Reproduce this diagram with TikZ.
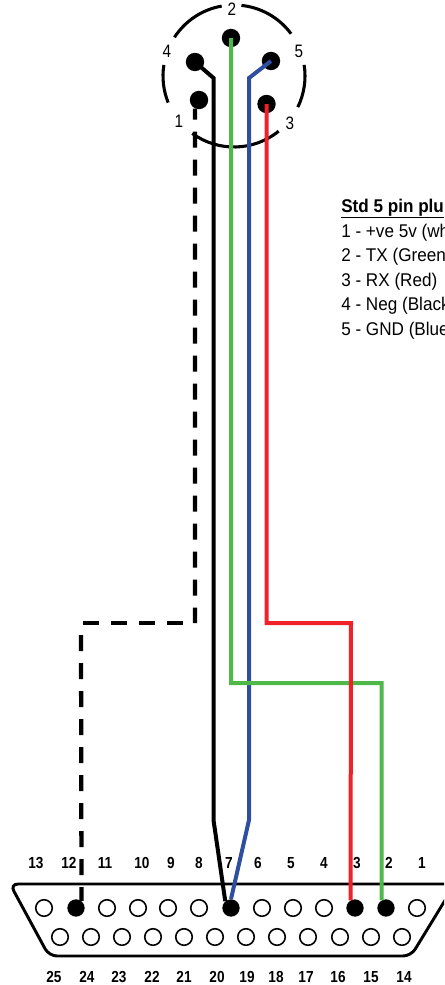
\documentclass[tikz,border=0pt]{standalone}
\usepackage{fontspec}
\setmainfont{Liberation Sans}
\newfontfamily\narrowfont[FakeStretch=0.85]{Liberation Sans}
\newfontfamily\keyfont[FakeStretch=0.93]{Liberation Sans}
\usepackage{tikz}
\usetikzlibrary{arrows,arrows.meta,calc,positioning}

\definecolor{wiregreen}{RGB}{78,184,72}
\definecolor{wireblue}{RGB}{46,79,160}
\definecolor{wirered}{RGB}{238,34,40}

\begin{document}
\begin{tikzpicture}[x=0.75pt,y=-0.75pt]

  \tikzstyle{RIM}=[line width=2.3pt];
  \tikzstyle{SHELL}=[line width=2.2pt,rounded corners=6pt];
  \tikzstyle{DINPIN}=[circle,fill=black,inner sep=0pt,minimum size=13.8pt];
  \tikzstyle{HOLE}=[circle,draw,line width=1.2pt,fill=white,inner sep=0pt,minimum size=12.4pt];
  \tikzstyle{PIN}=[circle,fill=black,inner sep=0pt,minimum size=13pt];
  \tikzstyle{WIRE}=[line width=3pt];
  \tikzstyle{DASHWIRE}=[line width=3.2pt,dash pattern=on 12pt off 9pt];
  \tikzstyle{NUM}=[inner sep=0pt,font=\narrowfont\fontsize{12}{14}\selectfont\bfseries];
  \tikzstyle{DINNUM}=[inner sep=0pt,font=\narrowfont\fontsize{13.5}{15}\selectfont];
  \tikzstyle{KEY}=[inner sep=0pt,anchor=base west,font=\keyfont\fontsize{13.8}{16}\selectfont];

  \path[use as bounding box,clip] (0,0) rectangle (444,985);

  %% round plug

  \coordinate (din) at (234,76);
  \draw[RIM] (din) ++(-84:71) arc[start angle=-84,end angle=-36.5,radius=71];
  \draw[RIM] (din) ++(-9:71) arc[start angle=-9,end angle=26,radius=71];
  \draw[RIM] (din) ++(51:71) arc[start angle=51,end angle=126,radius=71];
  \draw[RIM] (din) ++(158:71) arc[start angle=158,end angle=189,radius=71];
  \draw[RIM] (din) ++(213:71) arc[start angle=213,end angle=260,radius=71];

  \node [DINPIN] (din1) at (199,100) {};
  \node [DINPIN] (din2) at (231,38) {};
  \node [DINPIN] (din3) at (266.5,104) {};
  \node [DINPIN] (din4) at (195,62) {};
  \node [DINPIN] (din5) at (271,61) {};

  \node [DINNUM] (dn1) at (179,121) {1};
  \node [DINNUM] (dn2) at (232,9) {2};
  \node [DINNUM] (dn3) at (290,123) {3};
  \node [DINNUM] (dn4) at (167,51) {4};
  \node [DINNUM] (dn5) at (299,51) {5};

  %% key

  \node [KEY] (keyhead) at (341,212) {\bfseries\underline{Std 5 pin plu}};
  \node [KEY] (key1) at (341,237) {1 - +ve 5v (wh};
  \node [KEY] (key2) at (341,261.5) {2 - TX (Green};
  \node [KEY] (key3) at (341,286) {3 - RX (Red)};
  \node [KEY] (key4) at (341,310.5) {4 - Neg (Black};
  \node [KEY] (key5) at (341,335) {5 - GND (Blue};

  %% D plug

  \draw[SHELL] (10,884) -- (49,956) -- (411,956) -- (455,884) -- cycle;

  \node [HOLE] (s13) at (44,908) {};
  \node [PIN] (s12) at (76,908) {};
  \node [HOLE] (s11) at (107,908) {};
  \node [HOLE] (s10) at (138,908) {};
  \node [HOLE] (s9) at (168,908) {};
  \node [HOLE] (s8) at (199,908) {};
  \node [PIN] (s7) at (231,908) {};
  \node [HOLE] (s6) at (262,908) {};
  \node [HOLE] (s5) at (293,908) {};
  \node [HOLE] (s4) at (324,908) {};
  \node [PIN] (s3) at (355,908) {};
  \node [PIN] (s2) at (386,908) {};
  \node [HOLE] (s1) at (417,908) {};

  \node [HOLE] (s25) at (60,937) {};
  \node [HOLE] (s24) at (91,937) {};
  \node [HOLE] (s23) at (122,937) {};
  \node [HOLE] (s22) at (153,937) {};
  \node [HOLE] (s21) at (184,937) {};
  \node [HOLE] (s20) at (215,937) {};
  \node [HOLE] (s19) at (246,937) {};
  \node [HOLE] (s18) at (277,937) {};
  \node [HOLE] (s17) at (308,937) {};
  \node [HOLE] (s16) at (340,937) {};
  \node [HOLE] (s15) at (371,937) {};
  \node [HOLE] (s14) at (402,937) {};

  \node [NUM] (n13) at (36,863) {13};
  \node [NUM] (n12) at (69,863) {12};
  \node [NUM] (n11) at (105,863) {11};
  \node [NUM] (n10) at (142,863) {10};
  \node [NUM] (n9) at (171,863) {9};
  \node [NUM] (n8) at (199,863) {8};
  \node [NUM] (n7) at (229,863) {7};
  \node [NUM] (n6) at (258,863) {6};
  \node [NUM] (n5) at (291,863) {5};
  \node [NUM] (n4) at (324,863) {4};
  \node [NUM] (n3) at (357,863) {3};
  \node [NUM] (n2) at (389,863) {2};
  \node [NUM] (n1) at (422,863) {1};

  \node [NUM] (n25) at (54,977) {25};
  \node [NUM] (n24) at (87,977) {24};
  \node [NUM] (n23) at (119,977) {23};
  \node [NUM] (n22) at (152,977) {22};
  \node [NUM] (n21) at (184,977) {21};
  \node [NUM] (n20) at (217,977) {20};
  \node [NUM] (n19) at (247,977) {19};
  \node [NUM] (n18) at (276,977) {18};
  \node [NUM] (n17) at (306,977) {17};
  \node [NUM] (n16) at (338,977) {16};
  \node [NUM] (n15) at (371,977) {15};
  \node [NUM] (n14) at (404,977) {14};

  %% wires

  \coordinate (k1) at (213.5,78);
  \coordinate (k2) at (213.5,820);
  \coordinate (b1) at (249,78);
  \coordinate (b2) at (249,820);
  \coordinate (g1) at (381.5,683);
  \coordinate (r1) at (351,623);
  \coordinate (d1) at (195,623);
  \coordinate (d2) at (81,623);

  \draw[WIRE] (din4.center) -- (k1) -- (k2) -- (s7.130);
  \draw[WIRE,color=wireblue] (din5.center) -- (b1) -- (b2) -- (s7.90);
  \draw[WIRE,color=wiregreen] (din2.center) |- (g1) -- (s2.120);
  \draw[WIRE,color=wirered] (din3.center) |- (r1) -- (s3.120);

  \draw[DASHWIRE,dash phase=3.75pt] (din1.-115) -- (d1);
  \draw[DASHWIRE,dash phase=12pt] (d1) -- (d2);
  \draw[DASHWIRE,dash phase=12pt] (d2) -- (s12.52);

\end{tikzpicture}
\end{document}
